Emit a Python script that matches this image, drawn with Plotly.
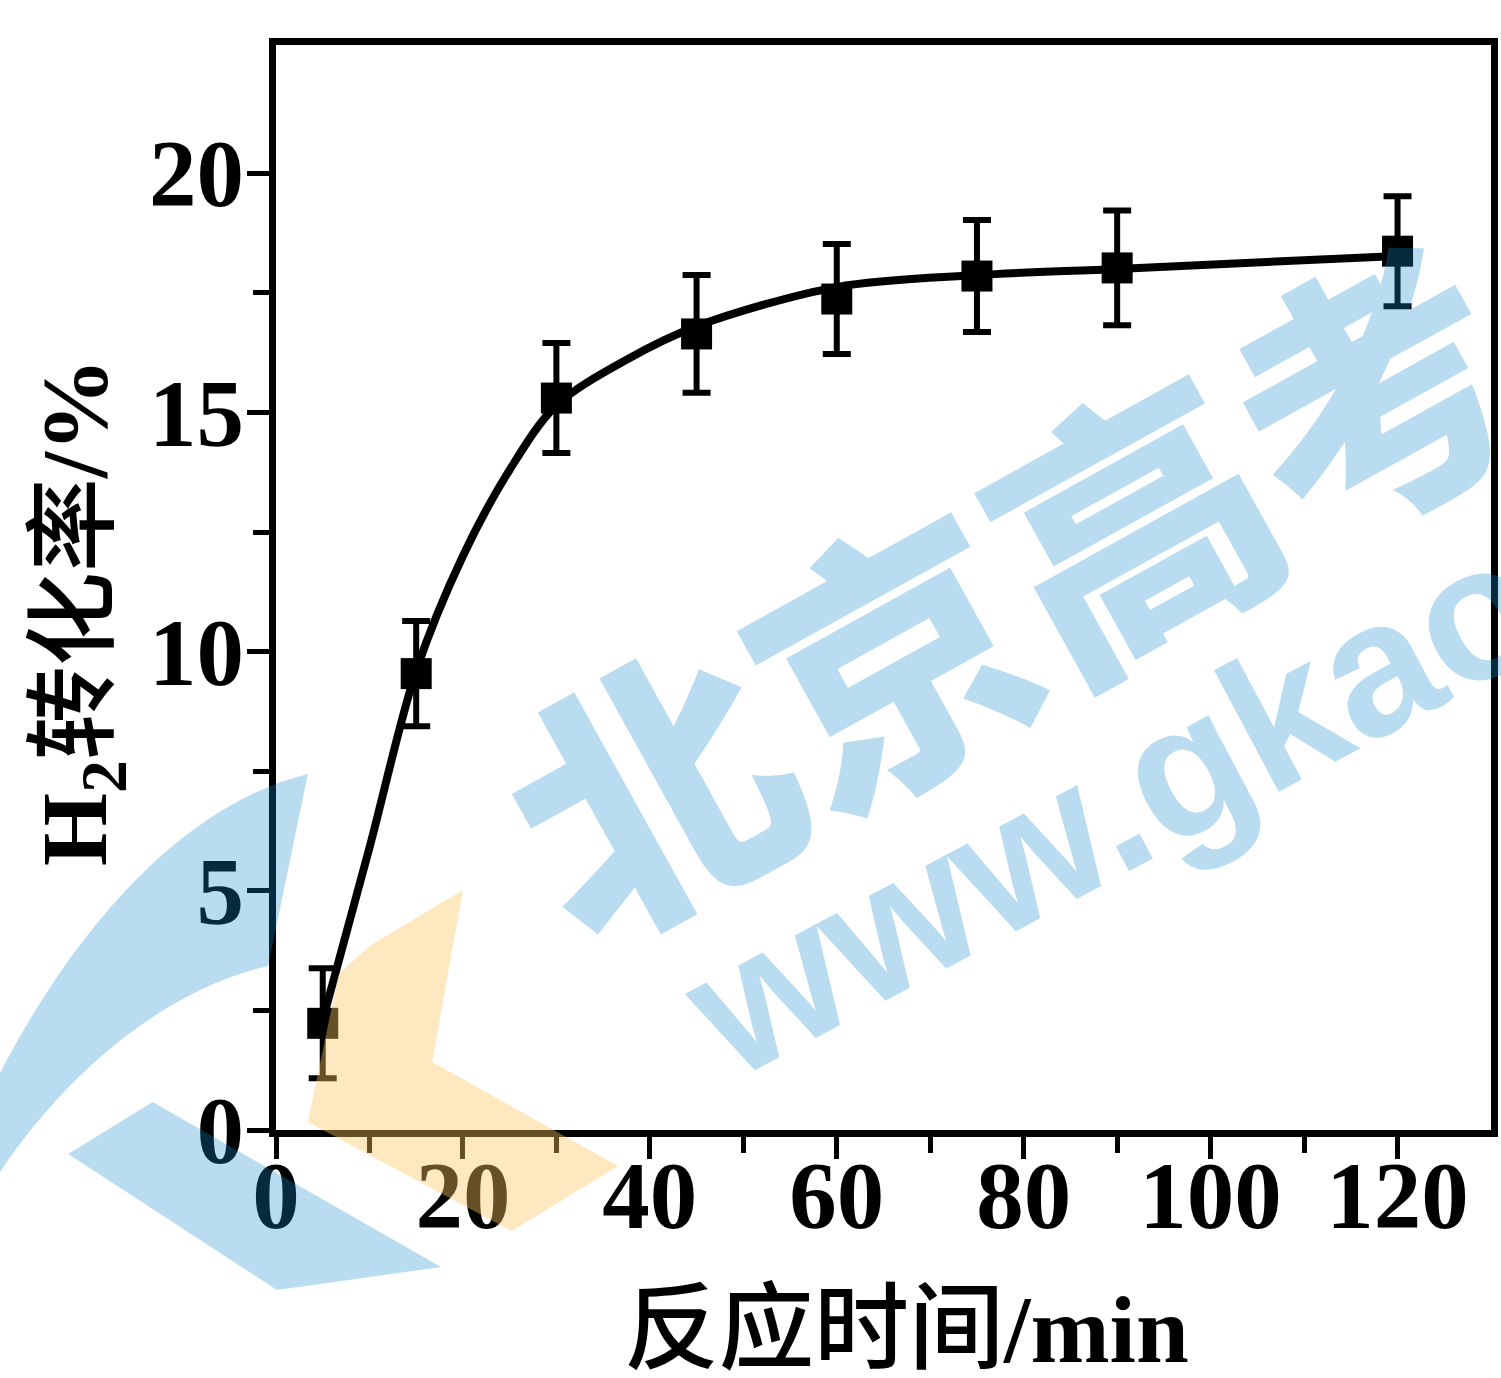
import plotly.graph_objects as go

# Reaction time (min) and H2 conversion (%) with error bars
time_min = [5, 15, 30, 45, 60, 75, 90, 120]
h2_conversion = [2.23, 9.54, 15.30, 16.64, 17.37, 17.85, 18.02, 18.37]
h2_error = [1.15, 1.10, 1.15, 1.23, 1.15, 1.17, 1.20, 1.15]

# smoothed trend curve drawn through the measurements
trend_time = [5, 10, 15, 20, 25, 30, 37.5, 45, 60, 75, 90, 120]
trend_conversion = [2.30, 5.90, 9.60, 12.00, 13.80, 15.15, 16.10, 16.80,
                    17.62, 17.87, 18.00, 18.27]

x_tick_vals = [0, 20, 40, 60, 80, 100, 120]
x_minor_vals = [10, 30, 50, 70, 90, 110]
y_tick_vals = [0, 5, 10, 15, 20]
y_minor_vals = [2.5, 7.5, 12.5, 17.5]

W, H = 1501, 1378
L, R, T, B = 276, 1498, 45, 1130  # plot area in pixels


def to_paper(xp, yp):
    return (xp - L) / (R - L), (B - yp) / (B - T)


def paper_path(cmds):
    """Build an SVG path in paper units from (command, [(x, y), ...]) pixel pairs."""
    parts = []
    for cmd, pts in cmds:
        coords = []
        for xp, yp in pts:
            px, py = to_paper(xp, yp)
            coords.append(f"{px:.4f},{py:.4f}")
        if cmd == "C":
            for i in range(0, len(coords), 3):
                parts.append("C " + " ".join(coords[i:i + 3]))
        else:
            for i, c in enumerate(coords):
                parts.append(("M " if (cmd == "M" and i == 0) else "L ") + c)
    return " ".join(parts) + " Z"


SERIF = "Liberation Serif, Noto Sans CJK SC"
BLUE_WM = "rgba(28,138,208,0.30)"
ORANGE_WM = "rgba(250,197,97,0.40)"

fig = go.Figure()

fig.add_trace(go.Scatter(
    x=trend_time, y=trend_conversion, mode="lines",
    line=dict(color="black", width=8, shape="spline", smoothing=0.9),
    hoverinfo="skip", showlegend=False,
))
fig.add_trace(go.Scatter(
    x=time_min, y=h2_conversion, mode="markers",
    marker=dict(symbol="square", size=31, color="black"),
    error_y=dict(type="data", array=h2_error, color="black", thickness=6, width=14),
    showlegend=False,
))

axis_common = dict(
    showline=True, linecolor="black", linewidth=7, mirror=True,
    ticks="outside", tickcolor="black", tickwidth=5, ticklen=22,
    showgrid=False, zeroline=False,
    tickfont=dict(family=SERIF, size=95, color="black", weight="bold"),
)

fig.update_xaxes(range=[0, 130], tickvals=x_tick_vals, ticklabelstandoff=-45,
                 minor=dict(tickvals=x_minor_vals, ticks="outside", ticklen=16,
                            tickwidth=5, tickcolor="black"),
                 **axis_common)
fig.update_yaxes(range=[0, 22.68], tickvals=y_tick_vals, ticklabelstandoff=-16,
                 minor=dict(tickvals=y_minor_vals, ticks="outside", ticklen=16,
                            tickwidth=5, tickcolor="black"),
                 **axis_common)

annotations = []
# axis titles
ax, ay = to_paper(80, 612)
annotations.append(dict(
    text="<b>H<sub>2</sub></b>转化率<b>/%</b>", x=ax, y=ay, xref="paper", yref="paper",
    textangle=-90, showarrow=False, xanchor="center", yanchor="middle",
    font=dict(family=SERIF, size=94, color="black", weight=500),
))
bx, by = to_paper(910, 1330)
annotations.append(dict(
    text="反应时间<b>/min</b>", x=bx, y=by, xref="paper", yref="paper",
    showarrow=False, xanchor="center", yanchor="middle",
    font=dict(family=SERIF, size=95, color="black", weight=500),
))
# site watermark
wx, wy = to_paper(1010, 580)
annotations.append(dict(
    text="北京高考", x=wx, y=wy, xref="paper", yref="paper",
    textangle=-29, showarrow=False, xanchor="center", yanchor="middle",
    font=dict(family="Noto Sans CJK SC", size=275, color=BLUE_WM, weight=900),
))
gx, gy = to_paper(1118, 805)
annotations.append(dict(
    text="www.gkao", x=gx, y=gy, xref="paper", yref="paper",
    textangle=-28, showarrow=False, xanchor="center", yanchor="middle",
    font=dict(family="Liberation Sans", size=190, color=BLUE_WM, weight="bold"),
))

# watermark logo: blue arc, blue stroke and orange chevron
logo_arc = paper_path([
    ("M", [(308, 774)]),
    ("C", [(200, 800), (90, 900), (0, 1070)]),
    ("L", [(-20, 1110), (-20, 1200), (0, 1170)]),
    ("C", [(60, 1080), (160, 990), (268, 966)]),
])
logo_stroke = paper_path([
    ("M", [(152, 1102)]),
    ("L", [(442, 1267), (277, 1290), (67, 1154)]),
])
logo_chevron = paper_path([
    ("M", [(370, 946)]),
    ("L", [(464, 890), (433, 1062), (620, 1166), (513, 1231), (308, 1122), (339, 974)]),
])
shapes = [
    dict(type="path", path=logo_arc, xref="paper", yref="paper",
         fillcolor=BLUE_WM, line=dict(width=0), layer="above"),
    dict(type="path", path=logo_stroke, xref="paper", yref="paper",
         fillcolor=BLUE_WM, line=dict(width=0), layer="above"),
    dict(type="path", path=logo_chevron, xref="paper", yref="paper",
         fillcolor=ORANGE_WM, line=dict(width=0), layer="above"),
]

fig.update_layout(
    width=W, height=H,
    margin=dict(l=L, r=W - R, t=T, b=H - B, pad=0),
    paper_bgcolor="white", plot_bgcolor="white",
    annotations=annotations, shapes=shapes,
    showlegend=False,
)

fig.write_html("out.html")
